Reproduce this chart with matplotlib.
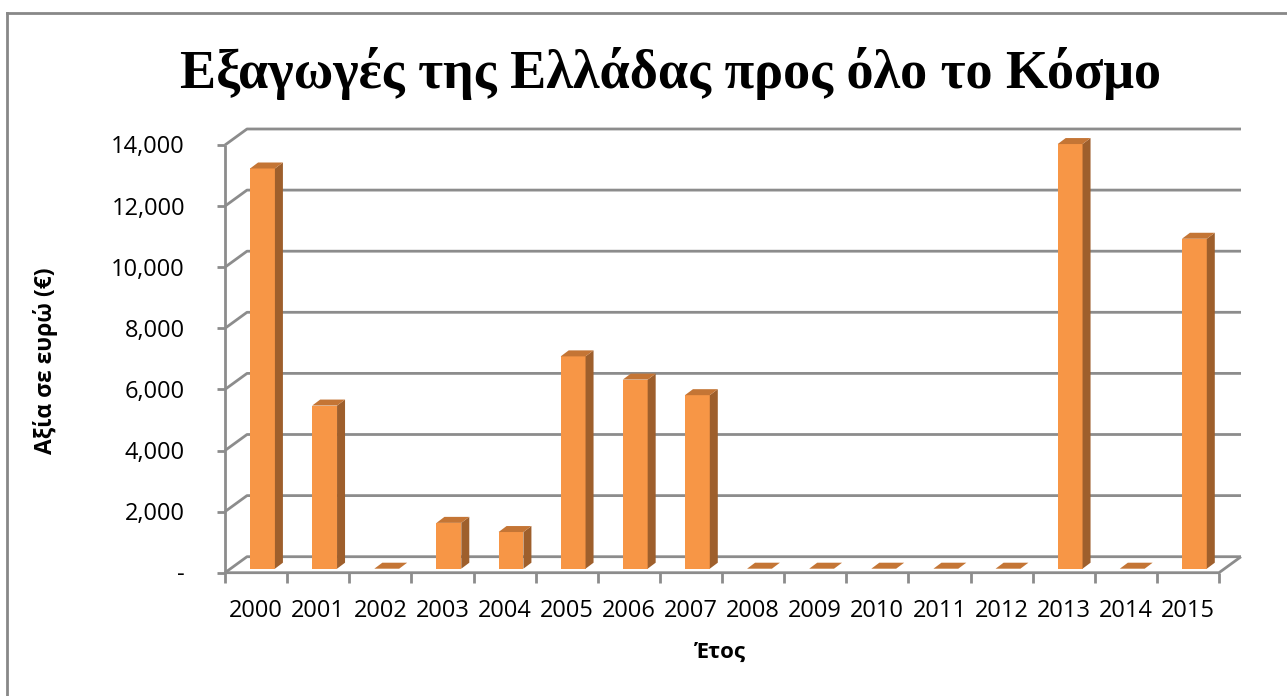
import numpy as np
import matplotlib
matplotlib.use('Agg')
import matplotlib.pyplot as plt
from matplotlib.patches import Polygon
from matplotlib.lines import Line2D
from matplotlib.transforms import IdentityTransform

# data
years = [str(y) for y in range(2000, 2016)]
values = [13100, 5340, 0, 1500, 1200, 6950, 6190, 5680,
          0, 0, 0, 0, 0, 13900, 0, 10800]
y_ticks = [0, 2000, 4000, 6000, 8000, 10000, 12000, 14000]
y_tick_labels = ['-', '2,000', '4,000', '6,000', '8,000', '10,000', '12,000', '14,000']

title = 'Εξαγωγές της Ελλάδας προς όλο το Κόσμο'
x_label = 'Έτος'
y_label = 'Αξία σε ευρώ (€)'

W, H = 1287, 696
grid_col = '#8c8c8c'
front_col = '#f79646'
side_col = '#9e5f2c'
top_col = '#c47535'
sans = ['Open Sans', 'DejaVu Sans']

wall = np.array([22.0, 16.0])     # depth of the back wall, px
bar_off = np.array([5.5, 4.0])    # bar front plane, px
bar_depth = np.array([8.0, 6.0])  # bar thickness, px

fig = plt.figure(figsize=(W / 100, H / 100), dpi=100)
ax = fig.add_axes([225 / W, (H - 572.7) / H, 994 / W, (572.7 - 145) / H])
ax.set_xlim(0, len(years))
ax.set_ylim(0, 14000)
ax.axis('off')

T = ax.transData.transform
ident = IdentityTransform()


def line(pts, **kw):
    pts = np.array(pts)
    ax.add_line(Line2D(pts[:, 0], pts[:, 1], transform=ident, clip_on=False,
                       color=grid_col, lw=2, solid_capstyle='butt', **kw))


# back wall gridlines and left wall diagonals
n = len(years)
for v in y_ticks:
    f = T((0, v))
    r = T((n, v))
    line([f, f + wall, r + wall], zorder=1)
# floor front edge and right edge
line([T((0, 0)), T((n, 0)), T((n, 0)) + wall], zorder=1)
# front value axis
line([T((0, 0)), T((0, 14000))], zorder=1)
for v, lab in zip(y_ticks, y_tick_labels):
    p = T((0, v))
    line([p, p - [8, 0]], zorder=1)
    ax.text(p[0] - 40, p[1] - 8.5, lab, transform=ident, ha='right', va='baseline',
            fontsize=17, family=sans)
# category ticks
for i in range(n + 1):
    p = T((i, 0))
    line([p, p - [0, 10]], zorder=1)
for i, yr in enumerate(years):
    p = T((i + 0.5, 0))
    ax.text(p[0], p[1] - 44, yr, transform=ident, ha='center', va='baseline',
            fontsize=17, family=sans)

# 3D-look bars
for i, v in enumerate(values):
    a = T((i + 0.315, 0)) + bar_off
    b = T((i + 0.715, v)) + bar_off
    x0, y0, x1, y1 = a[0], a[1], b[0], b[1]
    dx, dy = bar_depth
    if v > 0:
        ax.add_patch(Polygon([(x0, y0), (x1, y0), (x1, y1), (x0, y1)],
                             closed=True, transform=ident, fc=front_col,
                             ec='none', zorder=3, clip_on=False))
        ax.add_patch(Polygon([(x1, y0), (x1 + dx, y0 + dy), (x1 + dx, y1 + dy), (x1, y1)],
                             closed=True, transform=ident, fc=side_col,
                             ec='none', zorder=3, clip_on=False))
    ax.add_patch(Polygon([(x0, y1), (x1, y1), (x1 + dx, y1 + dy), (x0 + dx, y1 + dy)],
                         closed=True, transform=ident, fc=top_col,
                         ec='none', zorder=3, clip_on=False))

# title, scaled to span the same width as in the reference
t = fig.text(180 / W, 1 - 88 / H, title, ha='left', va='baseline', fontsize=40,
             fontweight='bold', family=['Liberation Serif', 'DejaVu Serif'])
w = t.get_window_extent(fig.canvas.get_renderer()).width
t.set_fontsize(40 * (1160 - 180) / w)

fig.text(720 / W, 1 - 652 / H, x_label, ha='center', va='center', fontsize=16,
         fontweight='bold', family=sans)
fig.text(46 / W, 1 - 361 / H, y_label, ha='center', va='center', fontsize=16.5,
         fontweight='bold', family=sans, rotation=90)

# chart area border (left and top edges visible)
fig.add_artist(Line2D([7 / W, 7 / W], [0, 1 - 13 / H], transform=fig.transFigure,
                      color='#888888', lw=2))
fig.add_artist(Line2D([7 / W, 1], [1 - 13 / H, 1 - 13 / H], transform=fig.transFigure,
                      color='#888888', lw=2))

fig.savefig('out.png', dpi=100)
